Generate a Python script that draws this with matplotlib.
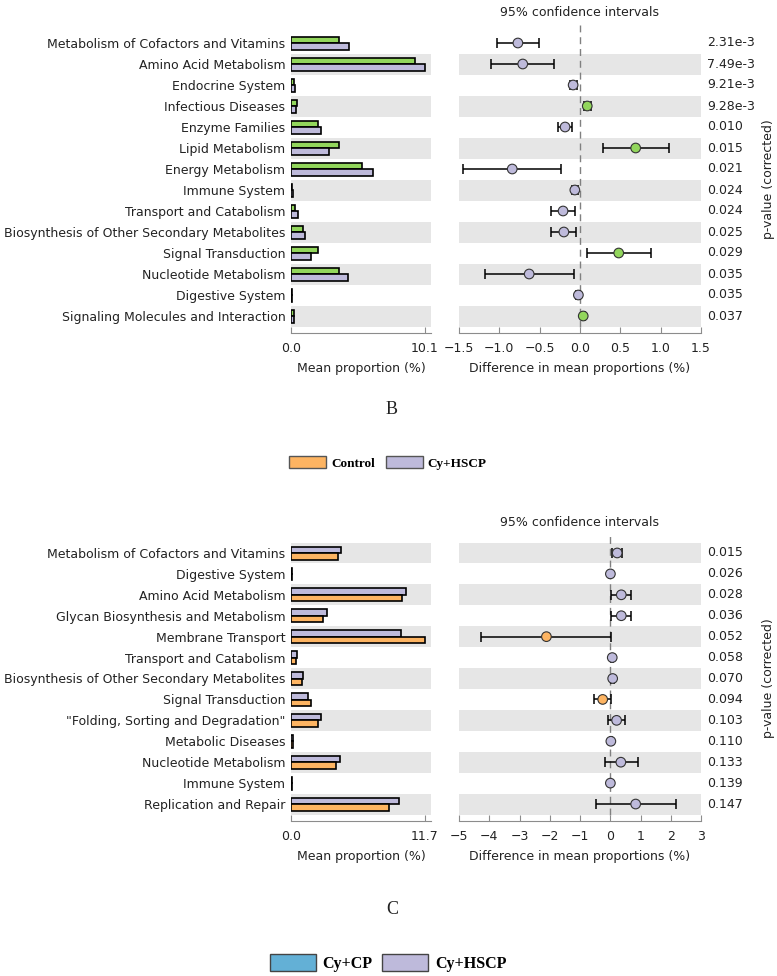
import matplotlib
matplotlib.use("Agg")
import matplotlib.pyplot as plt
import matplotlib.transforms as mtransforms
from matplotlib.patches import Patch
import numpy as np

plt.rcParams['font.family'] = ['DejaVu Sans']
plt.rcParams['font.size'] = 9

# ---------------- Panel B data ----------------
b_categories = ["Metabolism of Cofactors and Vitamins", "Amino Acid Metabolism",
                "Endocrine System", "Infectious Diseases", "Enzyme Families",
                "Lipid Metabolism", "Energy Metabolism", "Immune System",
                "Transport and Catabolism", "Biosynthesis of Other Secondary Metabolites",
                "Signal Transduction", "Nucleotide Metabolism", "Digestive System",
                "Signaling Molecules and Interaction"]
b_group1 = [3.62, 9.35, 0.25, 0.48, 2.06, 3.62, 5.38, 0.10, 0.30, 0.88, 2.04, 3.64, 0.05, 0.25]
b_group2 = [4.37, 10.10, 0.30, 0.38, 2.24, 2.89, 6.20, 0.12, 0.50, 1.08, 1.53, 4.27, 0.07, 0.22]
b_diff = [-0.77, -0.71, -0.085, 0.09, -0.185, 0.69, -0.84, -0.064, -0.21, -0.20, 0.48, -0.63, -0.02, 0.04]
b_ci_low = [-1.03, -1.10, -0.13, 0.05, -0.27, 0.28, -1.45, -0.10, -0.36, -0.355, 0.085, -1.18, -0.05, 0.02]
b_ci_high = [-0.51, -0.32, -0.04, 0.14, -0.10, 1.10, -0.23, -0.02, -0.06, -0.05, 0.885, -0.08, 0.005, 0.06]
b_pvalues = ["2.31e-3", "7.49e-3", "9.21e-3", "9.28e-3", "0.010", "0.015", "0.021",
             "0.024", "0.024", "0.025", "0.029", "0.035", "0.035", "0.037"]
b_xmax = 10.1
b_ci_ticks = [-1.5, -1.0, -0.5, 0.0, 0.5, 1.0, 1.5]

# ---------------- Panel C data ----------------
c_categories = ["Metabolism of Cofactors and Vitamins", "Digestive System",
                "Amino Acid Metabolism", "Glycan Biosynthesis and Metabolism",
                "Membrane Transport", "Transport and Catabolism",
                "Biosynthesis of Other Secondary Metabolites", "Signal Transduction",
                "\"Folding, Sorting and Degradation\"", "Metabolic Diseases",
                "Nucleotide Metabolism", "Immune System", "Replication and Repair"]
c_group1 = [4.37, 0.09, 10.04, 3.14, 9.58, 0.49, 1.08, 1.51, 2.65, 0.15, 4.25, 0.12, 9.43]
c_group2 = [4.13, 0.06, 9.69, 2.76, 11.70, 0.41, 0.96, 1.78, 2.39, 0.15, 3.90, 0.12, 8.56]
c_diff = [0.23, 0.005, 0.365, 0.365, -2.11, 0.066, 0.08, -0.25, 0.21, 0.02, 0.35, 0.004, 0.84]
c_ci_low = [0.055, -0.03, 0.03, 0.03, -4.26, 0.03, 0.04, -0.53, -0.07, -0.01, -0.19, -0.02, -0.48]
c_ci_high = [0.39, 0.03, 0.69, 0.70, 0.02, 0.10, 0.12, 0.04, 0.48, 0.05, 0.92, 0.02, 2.16]
c_pvalues = ["0.015", "0.026", "0.028", "0.036", "0.052", "0.058", "0.070",
             "0.094", "0.103", "0.110", "0.133", "0.139", "0.147"]
c_xmax = 11.7
c_ci_ticks = [-5, -4, -3, -2, -1, 0, 1, 2, 3]

GREEN = "#92d65c"
LAV = "#bebadb"
ORANGE = "#fdb462"
BLUE = "#63b0d6"
STRIPE = "#e6e6e6"
SPINE = "#8c8c8c"
TXT = "#222222"

W, H = 777, 976
fig = plt.figure(figsize=(W / 100, H / 100), dpi=100)


def px_axes(x0, x1, y0, y1):
    return fig.add_axes([x0 / W, 1 - y1 / H, (x1 - x0) / W, (y1 - y0) / H])


def style_bottom(ax):
    for s in ["top", "right", "left"]:
        ax.spines[s].set_visible(False)
    ax.spines["bottom"].set_position(("outward", 5))
    ax.spines["bottom"].set_color(SPINE)
    ax.tick_params(axis="x", direction="in", length=4, color=SPINE, labelcolor=TXT,
                   labelsize=9, pad=6)


def panel(cats, g1, g2, diff, lo, hi, pvals, xmax, ci_ticks, c1, c2,
          y0, y1, pos_col, neg_col):
    n = len(cats)
    ys = np.arange(n)
    axb = px_axes(291, 431, y0, y1)
    axc = px_axes(459, 701, y0, y1)
    for ax in (axb, axc):
        ax.set_ylim(n - 0.5, -0.5)
        for i in range(n):
            if (n - 1 - i) % 2 == 0:
                ax.axhspan(i - 0.5, i + 0.5, color=STRIPE, zorder=0, lw=0)
        style_bottom(ax)
    # bars
    axb.barh(ys - 0.15, g1, height=0.31, color=c1, edgecolor="black", lw=1.2, zorder=2)
    axb.barh(ys + 0.16, g2, height=0.31, color=c2, edgecolor="black", lw=1.2, zorder=2)
    axb.set_xlim(0, xmax * 140 / 134)
    axb.set_xticks([0, xmax])
    axb.set_xticklabels(["0.0", f"{xmax:.1f}"])
    axb.set_yticks(ys)
    axb.set_yticklabels(cats, fontsize=9, color=TXT)
    axb.tick_params(axis="y", length=0, pad=4)
    axb.set_xlabel("Mean proportion (%)", fontsize=9, color=TXT, labelpad=5)
    # CI
    axc.set_xlim(ci_ticks[0], ci_ticks[-1])
    axc.set_xticks(ci_ticks)
    axc.set_yticks([])
    axc.plot([0, 0], [n - 0.5, -0.85], color="#808080", ls=(0, (5, 3.5)), lw=1,
             zorder=1, clip_on=False)
    d = np.array(diff)
    xerr = [d - np.array(lo), np.array(hi) - d]
    axc.errorbar(d, ys, xerr=xerr, fmt="none", ecolor="black", elinewidth=1.1,
                 capsize=3.5, capthick=1.1, zorder=3)
    cols = [pos_col if v >= 0 else neg_col for v in diff]
    axc.scatter(d, ys, s=48, c=cols, edgecolors="#333333", linewidths=0.8, zorder=4)
    axc.set_xlabel("Difference in mean proportions (%)", fontsize=9, color=TXT, labelpad=5)
    axc.set_title("95% confidence intervals", fontsize=9, color=TXT, pad=12)
    trans = mtransforms.blended_transform_factory(axc.transAxes, axc.transData)
    for i, p in enumerate(pvals):
        axc.text(1.025, i, p, transform=trans, ha="left", va="center", fontsize=9, color=TXT)
    axc.text(1.28, 0.5, "p-value (corrected)", transform=axc.transAxes, rotation=90,
             ha="center", va="center", fontsize=9, color=TXT)
    return axb, axc


panel(b_categories, b_group1, b_group2, b_diff, b_ci_low, b_ci_high, b_pvalues,
      b_xmax, b_ci_ticks, GREEN, LAV, 32.5, 326.5, GREEN, LAV)
panel(c_categories, c_group1, c_group2, c_diff, c_ci_low, c_ci_high, c_pvalues,
      c_xmax, c_ci_ticks, LAV, ORANGE, 542.5, 814.5, LAV, ORANGE)

# panel letters
fig.text(392 / W, 1 - 409 / H, "B", ha="center", va="center",
         family="Liberation Serif", fontsize=13, color=TXT)
fig.text(392 / W, 1 - 910 / H, "C", ha="center", va="center",
         family="Liberation Serif", fontsize=13, color=TXT)

# legends
fig.legend(handles=[Patch(facecolor=ORANGE, edgecolor="#555555", lw=1, label="Control"),
                    Patch(facecolor=LAV, edgecolor="#555555", lw=1, label="Cy+HSCP")],
           loc="center", bbox_to_anchor=(388 / W, 1 - 463 / H), ncol=2, frameon=False,
           prop={"family": "Liberation Serif", "weight": "bold", "size": 9.5},
           handlelength=2.8, handleheight=1.0, handletextpad=0.4, columnspacing=0.8)
fig.legend(handles=[Patch(facecolor=BLUE, edgecolor="#444444", lw=1, label="Cy+CP"),
                    Patch(facecolor=LAV, edgecolor="#444444", lw=1, label="Cy+HSCP")],
           loc="center", bbox_to_anchor=(388 / W, 1 - 963 / H), ncol=2, frameon=False,
           prop={"family": "Liberation Serif", "weight": "bold", "size": 11.5},
           handlelength=2.9, handleheight=1.2, handletextpad=0.4, columnspacing=0.6)

fig.savefig("out.png", dpi=100)
